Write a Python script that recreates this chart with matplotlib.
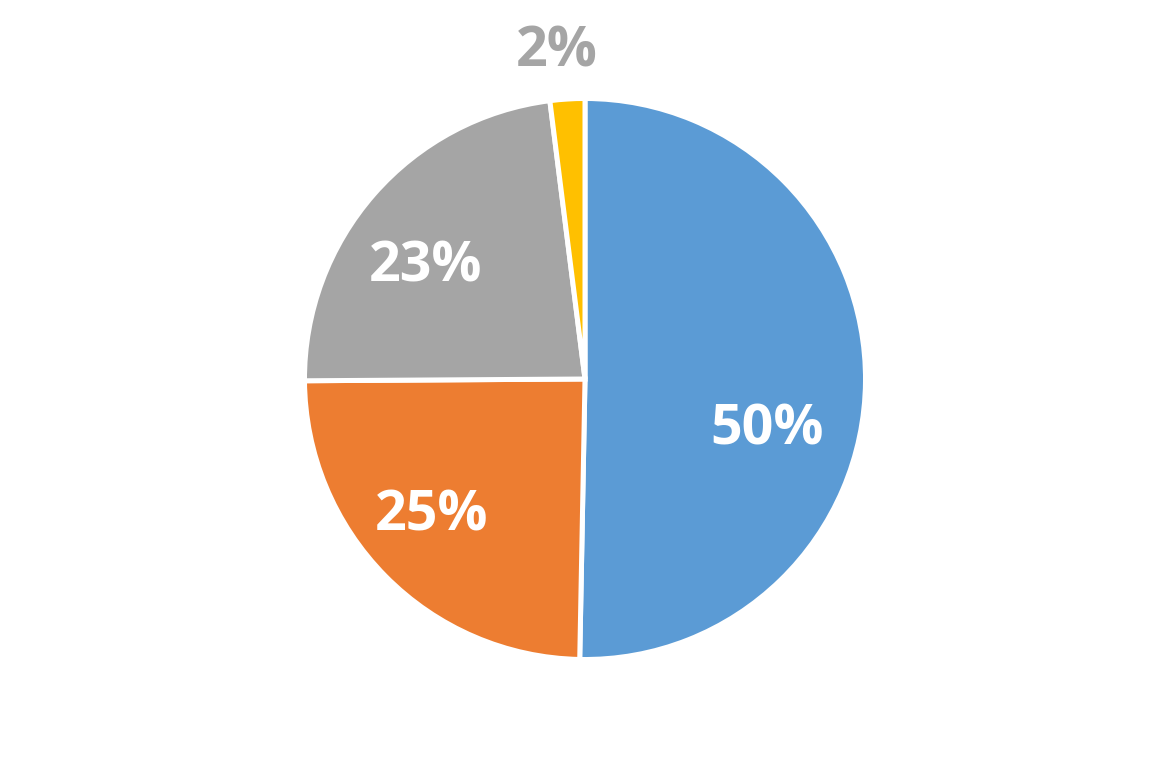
import numpy as np
import matplotlib
matplotlib.use("Agg")
import matplotlib.pyplot as plt

# slice shares (percent)
shares = [50.3, 24.6, 23.1, 2.0]
colors = ["#5B9BD5", "#ED7D31", "#A5A5A5", "#FFC000"]
label_colors = ["white", "white", "white", "#A5A5A5"]

# where each label sits: fraction of the way through the wedge, radius
label_frac = [0.572, 0.547, 0.444, 0.33]
label_rad = [0.669, 0.719, 0.707, 1.192]

W, H = 1171, 759
R_PX = 280.5
CX, CY = 585, 379  # pie centre, pixels from top-left

fig = plt.figure(figsize=(W / 100, H / 100), dpi=100)
ax = fig.add_axes([0, 0, 1, 1])

wedges, _ = ax.pie(shares, colors=colors, startangle=90, counterclock=False,
                   wedgeprops=dict(edgecolor="white", linewidth=3.6))

start = 90.0
for val, frac, rad, tc in zip(shares, label_frac, label_rad, label_colors):
    span = val / sum(shares) * 360.0
    ang = np.deg2rad(start - frac * span)
    ax.text(rad * np.cos(ang), rad * np.sin(ang), f"{val:.0f}%",
            ha="center", va="center_baseline", color=tc, fontsize=40,
            fontweight="bold", family=["Open Sans", "DejaVu Sans"])
    start -= span

ax.set_xlim(-CX / R_PX, (W - CX) / R_PX)
ax.set_ylim(-(H - CY) / R_PX, CY / R_PX)
ax.set_aspect("auto")
ax.axis("off")

fig.savefig("out.png", dpi=100, facecolor="white")
